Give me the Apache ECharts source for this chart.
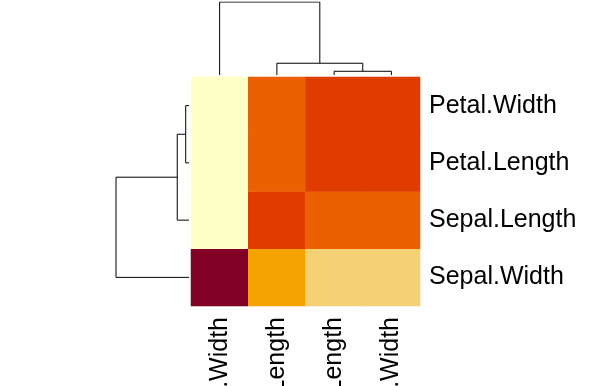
<!DOCTYPE html>
<html>
<head>
<meta charset="utf-8">
<script src="https://cdn.jsdelivr.net/npm/echarts@6/dist/echarts.min.js"></script>
<style>html,body{margin:0;padding:0;background:#fff;}#c{width:614px;height:386px;}</style>
</head>
<body>
<div id="c"></div>
<script>
// Column order (left to right) and row order (bottom to top)
var colLabels = ['Sepal.Width', 'Sepal.Length', 'Petal.Length', 'Petal.Width'];
var rowLabels = ['Sepal.Width', 'Sepal.Length', 'Petal.Length', 'Petal.Width'];
// Row-scaled correlation values, rows in rowLabels order, columns in colLabels order
var rowSepalWidth  = [1.47, -0.21, -0.68, -0.58];
var rowSepalLength = [-1.48, 0.70, 0.45, 0.34];
var rowPetalLength = [-1.50, 0.39, 0.58, 0.52];
var rowPetalWidth  = [-1.49, 0.33, 0.55, 0.61];
var rowsValues = [rowSepalWidth, rowSepalLength, rowPetalLength, rowPetalWidth];
// Dendrogram merges: [left child, right child, height]; children: leaf index or 'm'+merge index
var colMerges = [[2, 3, 0.051], [1, 'm0', 0.161], [0, 'm1', 1.0]];
var rowMerges = [[2, 3, 0.045], [1, 'm0', 0.161], [0, 'm1', 1.0]];

var heatData = [];
rowsValues.forEach(function (row, r) {
  row.forEach(function (v, c) { heatData.push([c, r, v]); });
});

function dendroPaths(merges, horizontal) {
  var pos = {}, hgt = {};
  function node(n) {
    if (typeof n === 'number') return { p: n + 0.5, h: 0 };
    return { p: pos[n], h: hgt[n] };
  }
  var series = [];
  merges.forEach(function (m, i) {
    var a = node(m[0]), b = node(m[1]), h = m[2];
    var pts = [[a.p, a.h], [a.p, h], [b.p, h], [b.p, b.h]];
    if (horizontal) pts = pts.map(function (q) { return [q[1], q[0]]; });
    pos['m' + i] = (a.p + b.p) / 2; hgt['m' + i] = h;
    series.push({
      type: 'line', xAxisIndex: horizontal ? 2 : 1, yAxisIndex: horizontal ? 2 : 1,
      data: pts, symbol: 'none', silent: true, animation: false,
      lineStyle: { color: '#000', width: 1 }
    });
  });
  return series;
}

var chart = echarts.init(document.getElementById('c'), null, { renderer: 'canvas' });
var option = {
  backgroundColor: '#fff',
  animation: false,
  grid: [
    { left: 191, top: 77, width: 229, height: 229, containLabel: false, outerBoundsMode: 'none' },
    { left: 191, top: 2, width: 229, height: 73, containLabel: false, outerBoundsMode: 'none' },
    { left: 116, top: 77, width: 73, height: 229, containLabel: false, outerBoundsMode: 'none' }
  ],
  xAxis: [
    { type: 'category', gridIndex: 0, data: colLabels,
      axisLine: { show: false }, axisTick: { show: false }, splitLine: { show: false },
      axisLabel: { rotate: 90, margin: 11, fontSize: 25, color: '#000', fontFamily: 'Liberation Sans, Arial, sans-serif', interval: 0 } },
    { type: 'value', gridIndex: 1, min: 0, max: 4, show: false },
    { type: 'value', gridIndex: 2, min: 0, max: 1, inverse: true, show: false }
  ],
  yAxis: [
    { type: 'category', gridIndex: 0, data: rowLabels, position: 'right',
      axisLine: { show: false }, axisTick: { show: false }, splitLine: { show: false },
      axisLabel: { margin: 9, padding: [5, 0, 0, 0], fontSize: 25, color: '#000', fontFamily: 'Liberation Sans, Arial, sans-serif', interval: 0 } },
    { type: 'value', gridIndex: 1, min: 0, max: 1, show: false },
    { type: 'value', gridIndex: 2, min: 0, max: 4, show: false }
  ],
  visualMap: {
    type: 'piecewise', show: false, seriesIndex: 0, dimension: 2,
    pieces: [
      { lt: -1.2, color: '#FFFFC8' },
      { gte: -1.2, lt: -0.4, color: '#F5D074' },
      { gte: -0.4, lt: 0, color: '#F5A300' },
      { gte: 0, lt: 0.5, color: '#EB6000' },
      { gte: 0.5, lt: 1.0, color: '#E03C00' },
      { gte: 1.0, color: '#800026' }
    ]
  },
  series: [
    { type: 'heatmap', xAxisIndex: 0, yAxisIndex: 0, data: heatData, silent: true,
      itemStyle: { borderWidth: 0 } }
  ].concat(dendroPaths(colMerges, false)).concat(dendroPaths(rowMerges, true))
};
chart.setOption(option);
</script>
</body>
</html>
